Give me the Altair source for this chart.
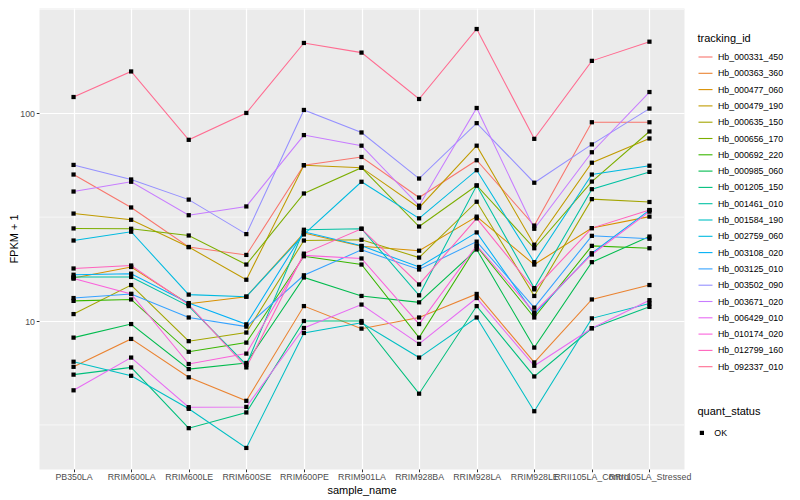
import altair as alt
import pandas as pd

samples = ["PB350LA", "RRIM600LA", "RRIM600LE", "RRIM600SE", "RRIM600PE", "RRIM901LA",
           "RRIM928BA", "RRIM928LA", "RRIM928LE", "RRII105LA_Control", "RRII105LA_Stressed"]

tracking_ids = ["Hb_000331_450", "Hb_000363_360", "Hb_000477_060", "Hb_000479_190", "Hb_000635_150",
                "Hb_000656_170", "Hb_000692_220", "Hb_000985_060", "Hb_001205_150", "Hb_001461_010",
                "Hb_001584_190", "Hb_002759_060", "Hb_003108_020", "Hb_003125_010", "Hb_003502_090",
                "Hb_003671_020", "Hb_006429_010", "Hb_010174_020", "Hb_012799_160", "Hb_092337_010"]

hue_colors = ["#F8766D", "#EA8331", "#D89000", "#C09B00", "#A3A500", "#7CAE00", "#39B600", "#00BB4E",
              "#00BF7D", "#00C1A3", "#00BFC4", "#00BAE0", "#00B0F6", "#35A2FF", "#9590FF", "#C77CFF",
              "#E76BF3", "#FA62DB", "#FF62BC", "#FF6C91"]

# FPKM + 1 per sample (same order as samples)
hb_000331_450 = [50.7, 35.2, 22.7, 20.8, 56.2, 61.6, 39.3, 59.4, 28.8, 90.5, 90.5]
hb_000363_360 = [6.02, 8.2, 5.36, 4.13, 11.8, 9.19, 10.4, 13.5, 6.32, 12.7, 14.9]
hb_000477_060 = [16.1, 18.2, 12.1, 13.1, 26.5, 22.9, 21.8, 31.8, 18.7, 28.0, 31.8]
hb_000479_190 = [32.9, 30.7, 22.7, 15.8, 56.2, 54.7, 35.1, 69.8, 23.3, 57.8, 75.6]
hb_000635_150 = [10.8, 14.9, 8.0, 8.8, 24.4, 24.6, 20.2, 37.5, 13.2, 38.6, 37.4]
hb_000656_170 = [27.9, 27.8, 25.8, 18.7, 41.1, 54.7, 28.5, 44.9, 22.4, 46.9, 81.7]
hb_000692_220 = [12.5, 12.7, 7.11, 7.87, 20.5, 18.7, 8.32, 22.9, 10.4, 23.0, 22.4]
hb_000985_060 = [8.32, 9.67, 5.87, 6.28, 16.2, 13.2, 12.3, 22.1, 7.45, 19.2, 25.5]
hb_001205_150 = [5.52, 5.98, 3.05, 3.63, 10.0, 10.0, 4.47, 11.8, 5.41, 9.23, 11.7]
hb_001461_010 = [16.3, 16.3, 11.8, 6.16, 27.5, 27.8, 13.3, 44.9, 14.4, 43.1, 52.2]
hb_001584_190 = [6.37, 5.45, 3.78, 2.45, 8.76, 9.81, 6.67, 10.4, 3.68, 10.3, 12.15]
hb_002759_060 = [24.4, 26.9, 13.4, 13.1, 26.1, 46.8, 31.2, 53.2, 19.2, 50.7, 55.9]
hb_003108_020 = [16.7, 16.9, 12.2, 9.64, 26.9, 23.0, 18.2, 26.7, 10.8, 21.2, 34.2]
hb_003125_010 = [12.9, 13.5, 10.4, 9.4, 16.6, 22.0, 17.7, 24.1, 11.6, 25.7, 24.9]
hb_003502_090 = [56.4, 48.0, 38.4, 26.2, 103.7, 80.8, 48.5, 89.6, 46.3, 70.8, 105.3]
hb_003671_020 = [42.0, 46.8, 32.3, 35.6, 78.5, 69.8, 35.9, 106.0, 27.8, 64.9, 126.5]
hb_006429_010 = [4.64, 6.67, 3.85, 3.86, 9.26, 12.0, 7.76, 12.9, 6.09, 9.23, 12.6]
hb_010174_020 = [16.0, 13.5, 6.21, 6.97, 20.7, 20.0, 9.67, 23.1, 11.0, 20.9, 33.6]
hb_012799_160 = [17.9, 18.5, 12.0, 5.98, 21.1, 27.8, 15.0, 31.2, 14.2, 28.0, 34.2]
hb_092337_010 = [119.7, 158.9, 74.5, 100.3, 217.9, 195.8, 117.1, 254.3, 75.3, 178.7, 221.0]

series_values = [hb_000331_450, hb_000363_360, hb_000477_060, hb_000479_190, hb_000635_150,
                 hb_000656_170, hb_000692_220, hb_000985_060, hb_001205_150, hb_001461_010,
                 hb_001584_190, hb_002759_060, hb_003108_020, hb_003125_010, hb_003502_090,
                 hb_003671_020, hb_006429_010, hb_010174_020, hb_012799_160, hb_092337_010]

major_breaks = [10, 100]
minor_breaks = [3.1623, 31.623, 316.23]
y_domain = [1.94, 321]

rows = []
for tid, vals in zip(tracking_ids, series_values):
    for s, v in zip(samples, vals):
        rows.append({"sample_name": s, "tracking_id": tid, "fpkm": v, "quant_status": "OK"})
df = pd.DataFrame(rows)
minor_df = pd.DataFrame({"fpkm": minor_breaks})

FONT = "Liberation Sans, Arial, Helvetica, sans-serif"
PANEL_LEFT = 40
PANEL_TOP = 8

y_scale = alt.Scale(type="log", domain=y_domain, nice=False)

y_axis = alt.Axis(
    values=major_breaks, format="d", title="FPKM + 1",
    grid=True, gridColor="white", gridWidth=1.2, domain=False,
    tickColor="#333333", tickSize=2.75, labelPadding=1.8,
    labelColor="#4D4D4D", labelFontSize=8.8, labelFont=FONT,
    titleFontSize=11, titleFontWeight="normal", titleColor="black", titleFont=FONT,
    titlePadding=0,
)

x_axis = alt.Axis(
    title="sample_name", labelAngle=0, labelOverlap=False, labelBound=False, labelFlush=False,
    grid=True, gridColor="white", gridWidth=1.2, domain=False,
    tickColor="#333333", tickSize=2.75, labelPadding=1.0,
    labelColor="#4D4D4D", labelFontSize=8.8, labelFont=FONT,
    titleFontSize=11, titleFontWeight="normal", titleColor="black", titleFont=FONT,
    titlePadding=2.5,
)

x_enc = alt.X("sample_name:N", sort=samples, scale=alt.Scale(type="point", padding=0.6), axis=x_axis)
y_enc = alt.Y("fpkm:Q", scale=y_scale, axis=y_axis)

minor = alt.Chart(minor_df).mark_rule(color="white", strokeWidth=0.6).encode(y=y_enc)

lines = alt.Chart(df).mark_line(strokeWidth=1.05).encode(
    x=x_enc,
    y=y_enc,
    color=alt.Color(
        "tracking_id:N",
        scale=alt.Scale(domain=tracking_ids, range=hue_colors),
        legend=alt.Legend(
            title="tracking_id", orient="none",
            legendX=698.5 - PANEL_LEFT, legendY=33 - PANEL_TOP,
            symbolType="stroke", symbolSize=196, symbolStrokeWidth=1.1,
            rowPadding=3.3, labelOffset=4.5, padding=0, titlePadding=5,
            labelFontSize=8.8, labelColor="black", labelFont=FONT,
            titleFontSize=11, titleFontWeight="normal", titleColor="black", titleFont=FONT,
            symbolLimit=50,
        ),
    ),
    detail="tracking_id:N",
)

points = alt.Chart(df).mark_point(filled=True, color="black", size=18, opacity=1).encode(
    x=x_enc,
    y=y_enc,
    shape=alt.Shape(
        "quant_status:N",
        scale=alt.Scale(range=["square"]),
        legend=alt.Legend(
            title="quant_status", orient="none",
            legendX=698.5 - PANEL_LEFT, legendY=405.5 - PANEL_TOP,
            symbolFillColor="black", symbolStrokeColor="black", symbolSize=18,
            labelOffset=8, padding=0, titlePadding=12,
            labelFontSize=8.8, labelColor="black", labelFont=FONT,
            titleFontSize=11, titleFontWeight="normal", titleColor="black", titleFont=FONT,
        ),
    ),
)

chart = alt.layer(minor, lines, points).properties(
    width=645, height=461,
    padding={"left": 0, "top": 0, "right": 0, "bottom": 0},
).configure(
    font=FONT, background="white"
).configure_view(
    fill="#EBEBEB", stroke="transparent"
)

chart.save("out.html", embed_options={"renderer": "svg", "actions": False})
